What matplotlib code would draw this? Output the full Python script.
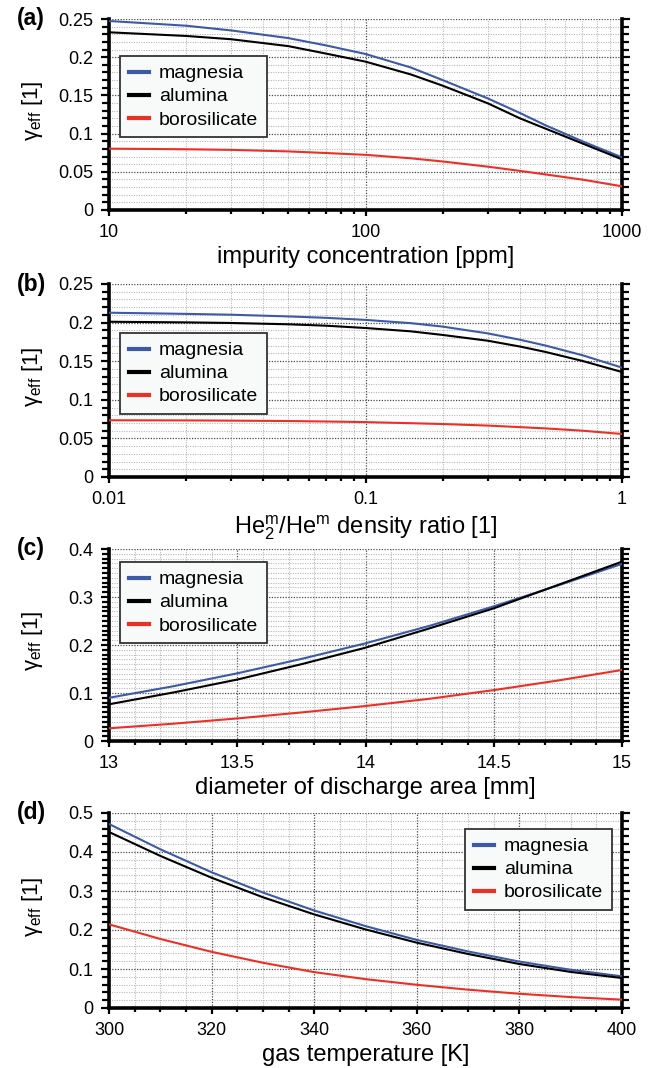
import matplotlib
matplotlib.use("Agg")
import matplotlib.pyplot as plt
from matplotlib.ticker import MultipleLocator, LogLocator, FuncFormatter, NullFormatter

plt.rcParams["font.family"] = ["Liberation Sans", "DejaVu Sans"]
plt.rcParams["mathtext.fontset"] = "custom"
plt.rcParams["mathtext.rm"] = "Liberation Sans"
plt.rcParams["mathtext.it"] = "Liberation Sans:italic"

# ---- data ----
materials = ["magnesia", "alumina", "borosilicate"]
colors = ["#3d5aa6", "#000000", "#ec3025"]

# (a) impurity concentration [ppm]
imp_x = [10, 20, 30, 50, 70, 100, 150, 200, 300, 400, 500, 700, 1000]
imp_mg = [0.2474, 0.2412, 0.2350, 0.2250, 0.2155, 0.2042, 0.1866, 0.1700, 0.1460, 0.1270, 0.1113, 0.0900, 0.0689]
imp_al = [0.2326, 0.2278, 0.2235, 0.2145, 0.2048, 0.1942, 0.1775, 0.1627, 0.1396, 0.1200, 0.1069, 0.0872, 0.0663]
imp_bs = [0.0803, 0.0795, 0.0787, 0.0767, 0.0746, 0.0722, 0.0677, 0.0635, 0.0567, 0.0512, 0.0467, 0.0398, 0.0310]

# (b) He2m / Hem density ratio
rat_x = [0.01, 0.02, 0.03, 0.05, 0.07, 0.1, 0.15, 0.2, 0.3, 0.4, 0.5, 0.7, 1.0]
rat_mg = [0.2128, 0.2113, 0.2102, 0.2080, 0.2062, 0.2035, 0.1993, 0.1948, 0.1860, 0.1778, 0.1705, 0.1578, 0.1417]
rat_al = [0.2011, 0.2003, 0.1995, 0.1978, 0.1960, 0.1930, 0.1887, 0.1840, 0.1765, 0.1690, 0.1622, 0.1504, 0.1360]
rat_bs = [0.0735, 0.0733, 0.0730, 0.0725, 0.0719, 0.0711, 0.0697, 0.0686, 0.0666, 0.0646, 0.0630, 0.0600, 0.0557]

# (c) diameter of discharge area [mm]
dia_x = [13, 13.25, 13.5, 13.75, 14, 14.25, 14.5, 14.75, 15]
dia_mg = [0.0900, 0.1140, 0.1410, 0.1710, 0.2035, 0.2400, 0.2805, 0.3240, 0.3690]
dia_al = [0.0765, 0.1010, 0.1280, 0.1600, 0.1944, 0.2347, 0.2764, 0.3250, 0.3736]
dia_bs = [0.0265, 0.0360, 0.0470, 0.0595, 0.0729, 0.0880, 0.1060, 0.1260, 0.1480]

# (d) gas temperature [K]
tmp_x = [300, 310, 320, 330, 340, 350, 360, 370, 380, 390, 400]
tmp_mg = [0.4718, 0.4070, 0.3480, 0.2960, 0.2500, 0.2100, 0.1745, 0.1450, 0.1190, 0.0980, 0.0812]
tmp_al = [0.4513, 0.3900, 0.3340, 0.2840, 0.2400, 0.2015, 0.1675, 0.1385, 0.1128, 0.0925, 0.0769]
tmp_bs = [0.2145, 0.1770, 0.1440, 0.1160, 0.0920, 0.0740, 0.0595, 0.0470, 0.0365, 0.0280, 0.0214]

W, H = 657, 1068
fig = plt.figure(figsize=(W / 100, H / 100), dpi=100)

fmt = FuncFormatter(lambda v, p: "%g" % round(v, 6))


def make_axes(top_px, bot_px):
    left, right = 109, 622
    return fig.add_axes([left / W, 1 - bot_px / H, (right - left) / W, (bot_px - top_px) / H])


def panel(ax, x, ys, tag, xlabel, ymax, ymaj, ymin, legend_kw):
    for y, c, name in zip(ys, colors, materials):
        ax.plot(x, y, color=c, lw=1.5, label=name, zorder=3)
    ax.set_ylim(0, ymax)
    ax.yaxis.set_major_locator(MultipleLocator(ymaj))
    ax.yaxis.set_minor_locator(MultipleLocator(ymin))
    ax.yaxis.set_major_formatter(fmt)
    ax.xaxis.set_major_formatter(fmt)

    ax.grid(True, which="major", color="#4a4a4a", linestyle=(0, (1, 1.2)), linewidth=0.9)
    ax.grid(True, which="minor", color="#b8b8b8", linestyle=(0, (1, 1.2)), linewidth=0.8)
    ax.set_axisbelow(True)

    ax.spines["top"].set_visible(False)
    for s in ("left", "right", "bottom"):
        ax.spines[s].set_linewidth(2.6)
    ax.tick_params(axis="y", which="both", direction="out", left=True, right=True,
                   width=1.6, labelsize=13, pad=5)
    ax.tick_params(axis="y", which="major", length=6)
    ax.tick_params(axis="y", which="minor", length=5)
    ax.tick_params(axis="x", which="both", direction="out", width=1.6, labelsize=13, pad=6)
    ax.tick_params(axis="x", which="major", length=4)
    ax.tick_params(axis="x", which="minor", length=3)

    ax.set_ylabel(r"γ$_{\mathrm{eff}}$ [1]", fontsize=16)
    ax.yaxis.set_label_coords(-0.125, 0.52)
    ax.set_xlabel(xlabel, fontsize=17, labelpad=4)

    leg = ax.legend(fontsize=14, frameon=True, fancybox=False, framealpha=1,
                    facecolor="#f8fafa", edgecolor="#333333", handlelength=1.05,
                    handletextpad=0.5, labelspacing=0.28, borderpad=0.45,
                    borderaxespad=0, **legend_kw)
    leg.get_frame().set_linewidth(1.3)
    for h in leg.get_lines():
        h.set_linewidth(3)

    bb = ax.get_position()
    fig.text(17 / W, bb.y1, tag, fontsize=16.5, fontweight="bold", ha="left", va="center")


ax1 = make_axes(19, 210)
ax1.set_xscale("log")
ax1.set_xlim(10, 1000)
ax1.xaxis.set_minor_locator(LogLocator(base=10, subs=range(2, 10)))
ax1.xaxis.set_minor_formatter(NullFormatter())
panel(ax1, imp_x, [imp_mg, imp_al, imp_bs], "(a)", "impurity concentration [ppm]",
      0.25, 0.05, 0.01, dict(loc="upper left", bbox_to_anchor=(0.021, 0.806)))

ax2 = make_axes(284, 477)
ax2.set_xscale("log")
ax2.set_xlim(0.01, 1)
ax2.xaxis.set_minor_locator(LogLocator(base=10, subs=range(2, 10)))
ax2.xaxis.set_minor_formatter(NullFormatter())
panel(ax2, rat_x, [rat_mg, rat_al, rat_bs], "(b)",
      r"He$_2^\mathrm{m}$/He$^\mathrm{m}$ density ratio [1]",
      0.25, 0.05, 0.01, dict(loc="upper left", bbox_to_anchor=(0.021, 0.746)))

ax3 = make_axes(549, 741)
ax3.set_xlim(13, 15)
ax3.xaxis.set_major_locator(MultipleLocator(0.5))
ax3.xaxis.set_minor_locator(MultipleLocator(0.1))
panel(ax3, dia_x, [dia_mg, dia_al, dia_bs], "(c)", "diameter of discharge area [mm]",
      0.4, 0.1, 0.01, dict(loc="upper left", bbox_to_anchor=(0.021, 0.932)))

ax4 = make_axes(813, 1008)
ax4.set_xlim(300, 400)
ax4.xaxis.set_major_locator(MultipleLocator(20))
ax4.xaxis.set_minor_locator(MultipleLocator(5))
panel(ax4, tmp_x, [tmp_mg, tmp_al, tmp_bs], "(d)", "gas temperature [K]",
      0.5, 0.1, 0.02, dict(loc="upper right", bbox_to_anchor=(0.9805, 0.918)))

fig.savefig("out.png", dpi=100)
